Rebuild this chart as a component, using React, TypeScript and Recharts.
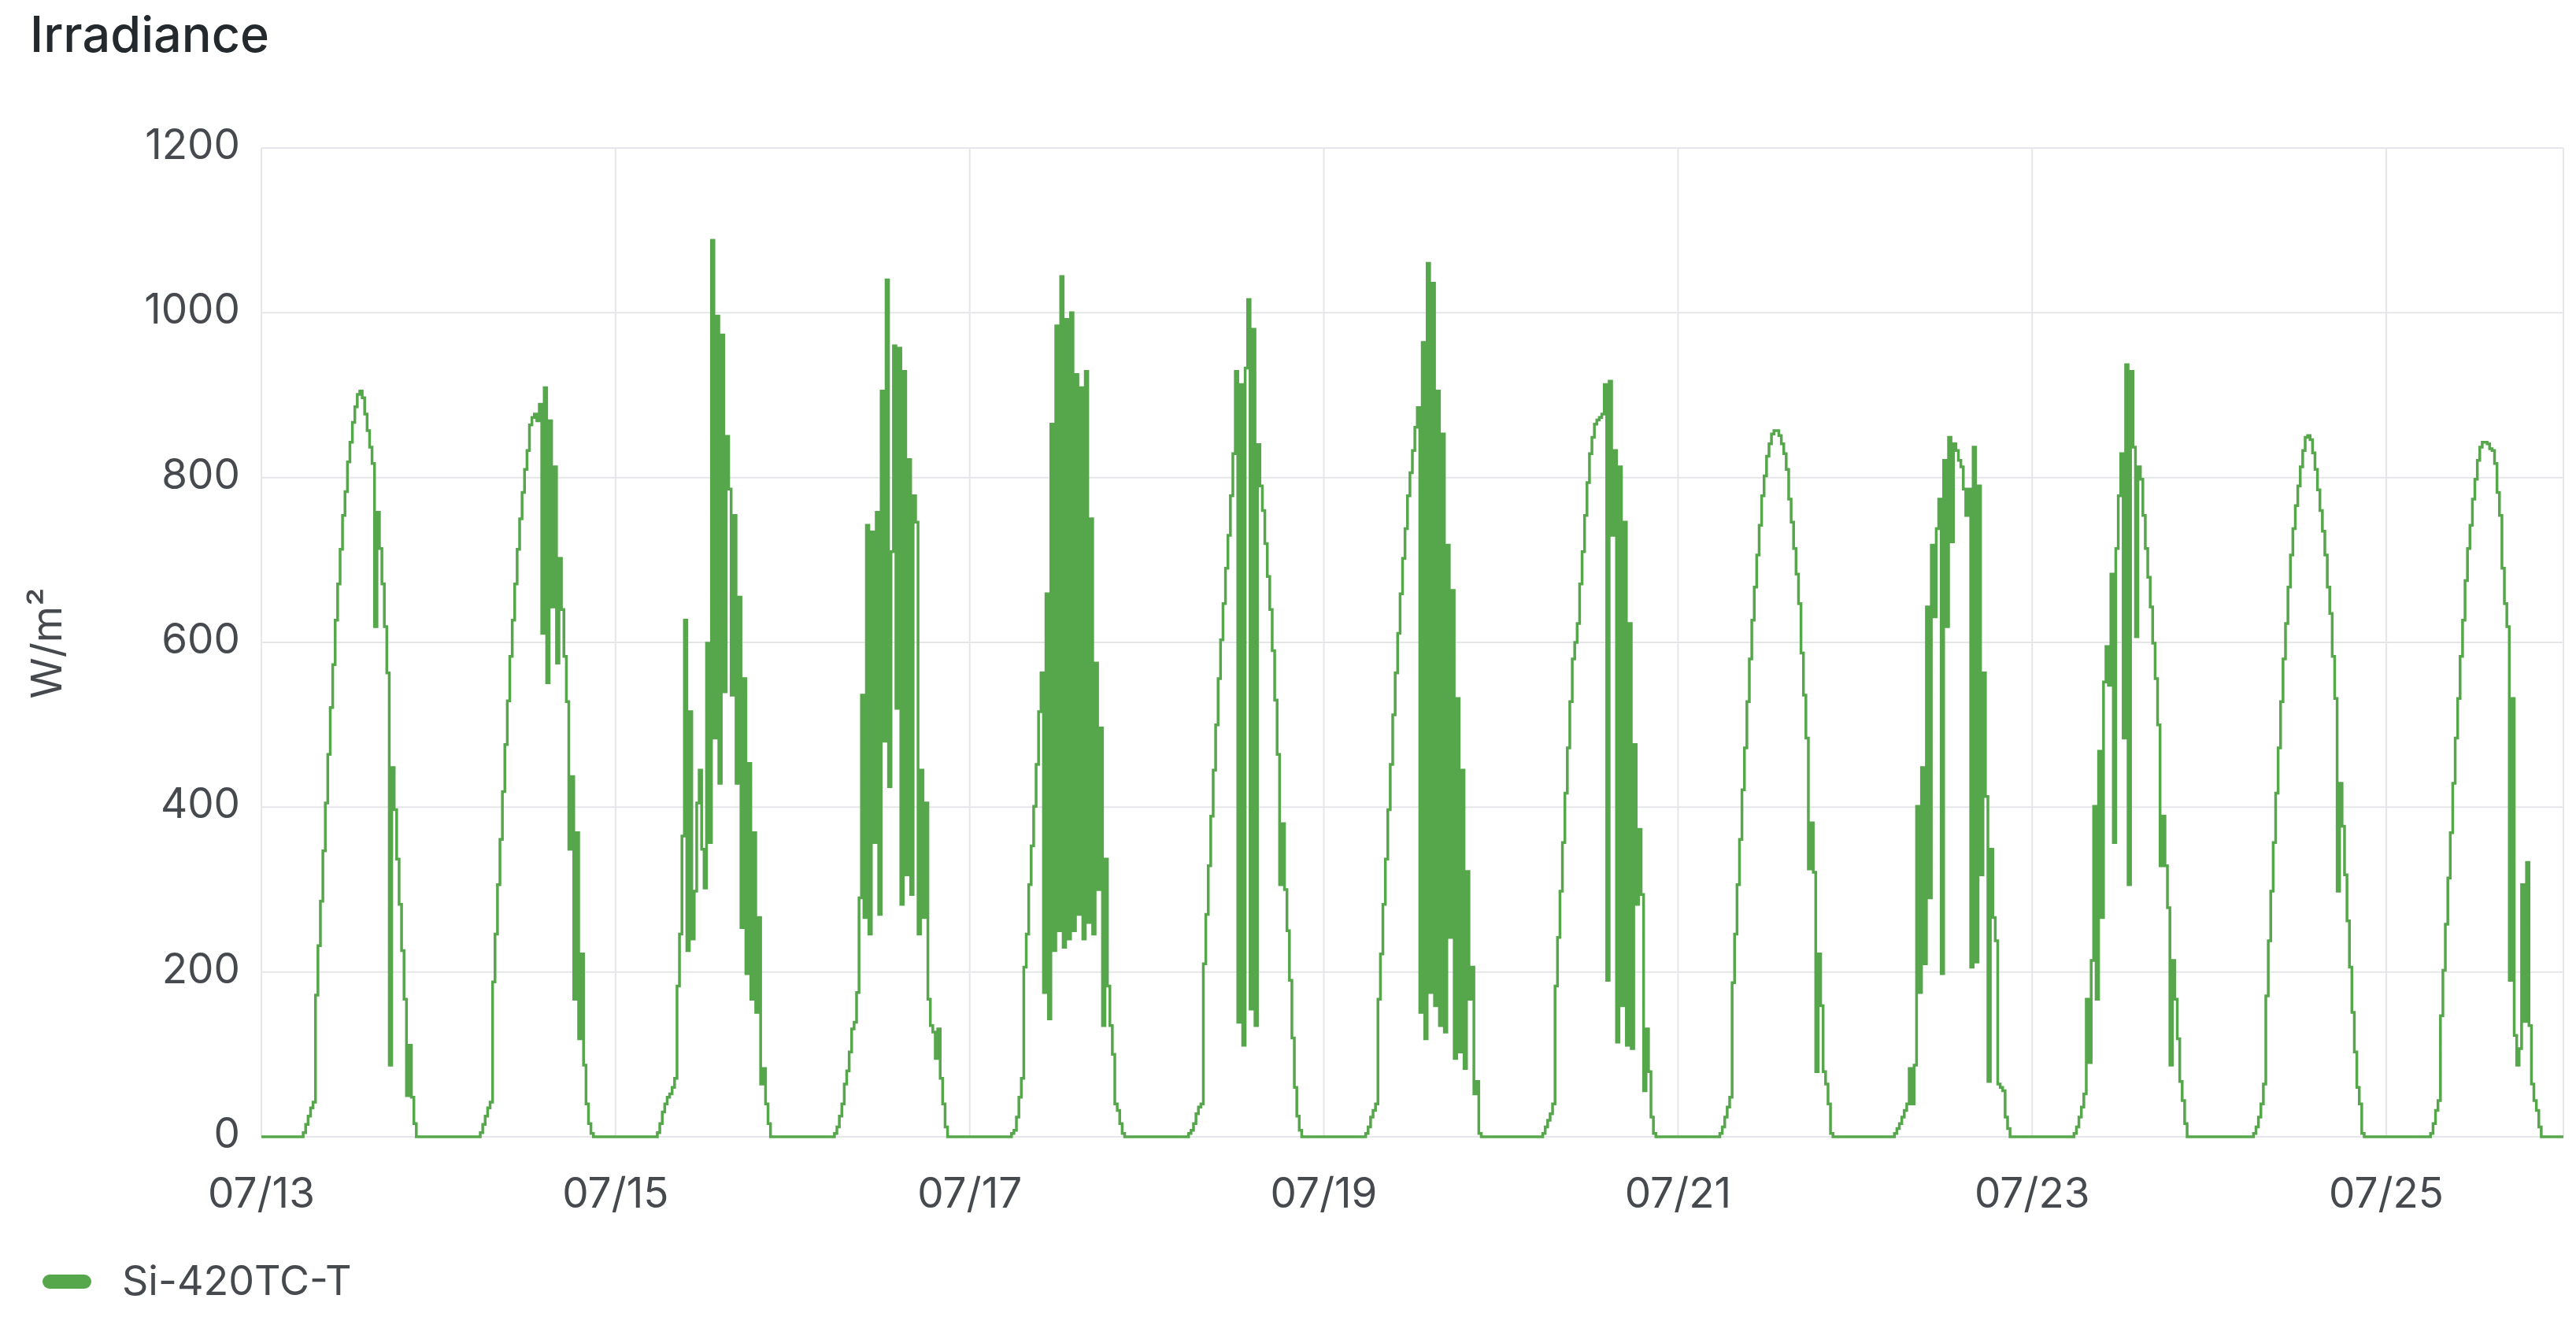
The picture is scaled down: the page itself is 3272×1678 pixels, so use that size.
import React from "react";
import { LineChart, Line, XAxis, YAxis, CartesianGrid } from "recharts";

// Irradiance (W/m²) readings, one value every 20 minutes from 05:00 to 21:20 each day
const day0713 = [0,0,5,15,25,35,42,172,232,286,347,405,464,521,573,627,671,713,754,783,819,843,867,886,901,905,897,877,857,837,817,619,758,714,671,619,563,87,448,397,337,282,226,167,50,111,48,16,0,0];
const day0714 = [0,0,5,15,25,35,42,188,246,306,361,419,476,529,583,627,671,713,750,782,810,833,864,873,877,869,889,611,909,551,869,643,813,575,702,640,583,528,349,437,167,369,119,222,87,40,16,4,0,0];
const day0715 = [0,0,5,16,30,40,48,52,60,71,183,246,365,627,226,516,240,298,405,445,349,302,599,357,1088,484,996,429,973,540,850,786,536,754,429,655,254,556,198,453,167,369,151,266,64,83,40,16,0,0];
const day0716 = [0,0,4,12,25,40,64,80,103,131,139,175,290,536,266,742,246,734,357,758,270,905,480,1040,425,710,960,520,957,282,929,318,822,294,778,746,246,445,266,405,167,135,127,95,131,71,40,12,0,0];
const day0717 = [0,0,4,8,24,48,71,206,246,306,353,401,452,516,563,175,659,143,865,226,984,250,1044,230,992,240,1000,250,925,270,909,240,929,260,750,246,575,300,496,135,337,183,135,100,40,32,16,4,0,0];
const day0718 = [0,0,4,8,16,28,36,40,210,270,329,389,445,500,556,603,647,690,730,778,829,929,139,913,111,933,1016,155,980,135,840,790,760,720,680,640,590,530,464,306,380,300,250,190,120,60,25,8,0,0];
const day0719 = [0,0,4,12,24,32,40,167,222,282,337,397,452,512,563,611,659,702,738,778,806,833,861,885,151,964,119,1060,175,1036,159,905,135,853,127,718,242,663,95,532,103,445,83,322,167,206,52,67,4,0];
const day0720 = [0,0,4,12,20,28,40,183,242,298,357,417,472,528,580,600,623,671,710,754,794,829,849,865,870,873,877,913,190,917,730,833,115,813,159,746,111,623,107,476,282,373,294,56,131,79,24,4,0,0];
const day0721 = [0,0,4,12,24,36,48,187,246,306,361,421,472,528,580,627,667,706,742,778,802,826,841,853,857,857,851,841,829,810,774,746,714,683,647,587,536,484,325,381,321,79,222,159,79,64,40,4,0,0];
const day0722 = [0,4,10,16,24,32,40,83,40,87,401,175,448,210,643,290,718,631,738,774,198,821,619,849,722,841,833,821,813,786,754,786,206,837,212,790,318,563,413,67,349,266,238,64,60,56,24,10,0,0];
const day0723 = [0,0,4,12,24,36,52,167,90,214,401,167,468,266,552,595,548,683,357,714,778,829,484,937,306,929,837,607,813,798,754,714,679,643,599,556,500,329,389,329,278,87,214,167,119,67,44,16,0,0];
const day0724 = [0,0,0,4,12,24,40,64,171,238,298,357,417,472,528,580,623,667,706,738,766,790,813,833,849,851,846,830,810,785,760,735,706,667,635,583,532,298,429,377,318,262,206,151,103,60,40,4,0,0];
const day0725 = [0,0,0,4,16,32,44,147,202,258,314,369,429,484,532,583,627,675,714,742,774,798,821,837,843,843,841,835,833,817,782,754,690,647,619,190,532,123,87,107,306,140,333,135,64,44,32,12,0,0];

const dailySeries = [day0713, day0714, day0715, day0716, day0717, day0718, day0719, day0720, day0721, day0722, day0723, day0724, day0725];

// x axis: hours since 07/13 00:00
const xTicks = [0, 48, 96, 144, 192, 240, 288];
const xTickLabels = ["07/13", "07/15", "07/17", "07/19", "07/21", "07/23", "07/25"];
const yTicks = [0, 200, 400, 600, 800, 1000, 1200];

const seriesName = "Si-420TC-T";
const GREEN = "#56A64B";
const TEXT = "#46494e";
const FONT = "Inter, 'Noto Sans', sans-serif";

const data: { h: number; v: number }[] = [{ h: 0, v: 0 }];
dailySeries.forEach((vals, d) => {
  vals.forEach((v, i) => {
    data.push({ h: d * 24 + 5 + i / 3, v });
  });
});
data.push({ h: 312, v: 0 });

const XTick = (props: any) => {
  const { x, y, payload } = props;
  const idx = xTicks.indexOf(payload.value);
  return (
    <text x={x} y={y + 90} textAnchor="middle" fill={TEXT} fontSize={53} fontFamily={FONT}>
      {idx >= 0 ? xTickLabels[idx] : ""}
    </text>
  );
};

const YTick = (props: any) => {
  const { x, y, payload } = props;
  return (
    <text x={x} y={y + 14} textAnchor="end" fill={TEXT} fontSize={53} fontFamily={FONT}>
      {payload.value}
    </text>
  );
};

export default function App() {
  return (
    <div style={{ position: "absolute", left: 0, top: 0, width: 3272, height: 1678, background: "#ffffff", fontFamily: FONT }}>
      <svg width={3272} height={1678} style={{ position: "absolute", left: 0, top: 0 }}>
        <text x={38} y={66} fontSize={63} fontWeight={500} fill="#24292e" fontFamily={FONT}>Irradiance</text>
        <text
          x={0}
          y={0}
          transform="translate(78,817) rotate(-90)"
          textAnchor="middle"
          fontSize={53}
          fill={TEXT}
          fontFamily={FONT}
        >
          W/m²
        </text>
        <rect x={54} y={1619} width={62} height={18} rx={9} fill={GREEN} />
        <text x={155} y={1645} fontSize={52} fill={TEXT} fontFamily={FONT}>{seriesName}</text>
      </svg>
      <div style={{ position: "absolute", left: 0, top: 0 }}>
        <LineChart width={3272} height={1600} data={data} margin={{ top: 188, right: 16, bottom: 6, left: 0 }}>
          <CartesianGrid stroke="#e5e6e9" strokeWidth={2} />
          <XAxis
            dataKey="h"
            type="number"
            domain={[0, 312]}
            ticks={xTicks}
            axisLine={false}
            tickLine={false}
            tickSize={0}
            tickMargin={0}
            height={150}
            tick={<XTick />}
            interval={0}
            allowDataOverflow
          />
          <YAxis
            domain={[0, 1200]}
            ticks={yTicks}
            axisLine={false}
            tickLine={false}
            tickSize={0}
            tickMargin={27}
            width={332}
            tick={<YTick />}
            interval={0}
          />
          <Line
            type="stepAfter"
            dataKey="v"
            name={seriesName}
            stroke={GREEN}
            strokeWidth={3.5}
            dot={false}
            activeDot={false}
            isAnimationActive={false}
          />
        </LineChart>
      </div>
    </div>
  );
}
